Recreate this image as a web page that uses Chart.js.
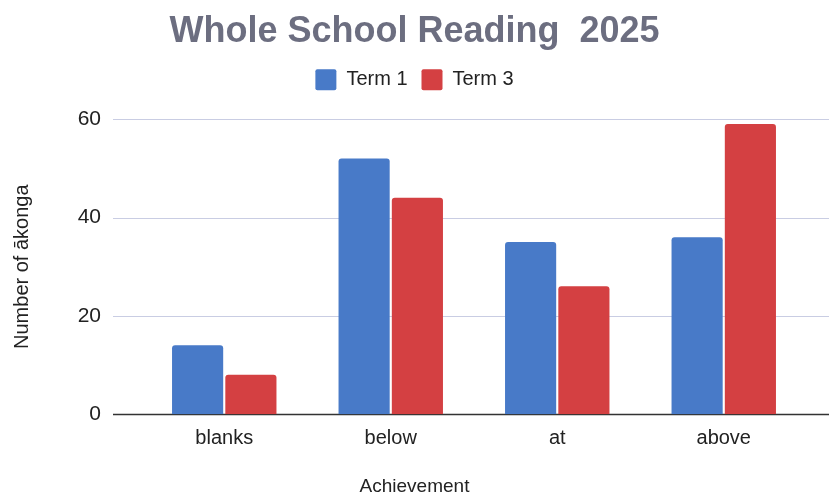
<!DOCTYPE html>
<html lang="en">
<head>
  <meta charset="UTF-8">
  <title>Whole School Reading 2025</title>
  <script src="https://cdn.jsdelivr.net/npm/chart.js"></script>
  <style>
    html, body { margin: 0; padding: 0; background: #fff; }
    .chart-container { width: 829px; height: 498px; }
  </style>
</head>
<body>
  <div class="chart-container">
    <canvas id="myChart"></canvas>
  </div>

  <script>
    // data
    const categories = ['blanks', 'below', 'at', 'above'];
    const term1 = [14, 52, 35, 36];
    const term3 = [8, 44, 26, 59];
    const yTicks = [0, 20, 40, 60];

    // horizontal grid lines that run past the bar area, like the original
    const wideGrid = {
      id: 'wideGrid',
      beforeDatasetsDraw(chart) {
        const ctx = chart.ctx;
        const y = chart.scales.y;
        ctx.save();
        yTicks.forEach((v) => {
          const py = Math.round(y.getPixelForValue(v)) + 0.5;
          ctx.beginPath();
          ctx.strokeStyle = v === 0 ? '#333333' : '#c9cde3';
          ctx.lineWidth = v === 0 ? 1.5 : 1;
          ctx.moveTo(113, py);
          ctx.lineTo(829, py);
          ctx.stroke();
        });
        ctx.restore();
      }
    };

    // extra room under the legend
    const legendGap = {
      id: 'legendGap',
      beforeInit(chart) {
        const fit = chart.legend.fit;
        chart.legend.fit = function () {
          fit.bind(chart.legend)();
          this.height += 19;
        };
      }
    };

    const ctx = document.getElementById('myChart').getContext('2d');
    const myChart = new Chart(ctx, {
      type: 'bar',
      data: {
        labels: categories,
        datasets: [
          {
            label: 'Term 1',
            data: term1,
            backgroundColor: 'rgb(72, 122, 200)',
            borderRadius: 3,
            borderSkipped: 'start'
          },
          {
            label: 'Term 3',
            data: term3,
            backgroundColor: 'rgb(212, 64, 66)',
            borderRadius: 3,
            borderSkipped: 'start'
          }
        ]
      },
      options: {
        responsive: true,
        maintainAspectRatio: false,
        animation: false,
        categoryPercentage: 0.64,
        barPercentage: 0.96,
        layout: { padding: 0 },
        plugins: {
          title: {
            display: true,
            text: 'Whole School Reading  2025',
            color: '#6c6e80',
            font: { family: 'Liberation Sans', size: 36, weight: 'bold' },
            padding: { top: 10, bottom: 2 }
          },
          subtitle: {
            display: true,
            position: 'bottom',
            text: 'Achievement',
            color: '#222',
            font: { family: 'Liberation Sans', size: 19 },
            padding: { top: 21, bottom: 0 }
          },
          legend: {
            position: 'top',
            labels: {
              color: '#222',
              font: { family: 'Liberation Sans', size: 20 },
              boxWidth: 21,
              boxHeight: 21,
              padding: 14,
              useBorderRadius: true,
              borderRadius: 2
            }
          },
          tooltip: { enabled: false }
        },
        scales: {
          x: {
            grid: { display: false },
            border: { display: false },
            ticks: {
              color: '#222',
              font: { family: 'Liberation Sans', size: 20 },
              padding: 4
            }
          },
          y: {
            min: 0,
            max: 60,
            afterBuildTicks: (s) => { s.ticks = yTicks.map((v) => ({ value: v })); },
            afterFit: (s) => { s.width = 141; },
            grid: { display: false, drawTicks: false },
            border: { display: false },
            ticks: {
              color: '#222',
              font: { family: 'Liberation Sans', size: 21 },
              padding: 40
            },
            title: {
              display: true,
              text: 'Number of ākonga',
              color: '#222',
              font: { family: 'Liberation Sans', size: 20 },
              padding: { top: 10, bottom: 0 }
            }
          },
          // empty right-hand axis, only to keep the bars off the right edge
          yRight: {
            position: 'right',
            afterFit: (s) => { s.width = 22; },
            grid: { display: false },
            border: { display: false },
            ticks: { display: false }
          }
        }
      },
      plugins: [wideGrid, legendGap]
    });
  </script>
</body>
</html>
